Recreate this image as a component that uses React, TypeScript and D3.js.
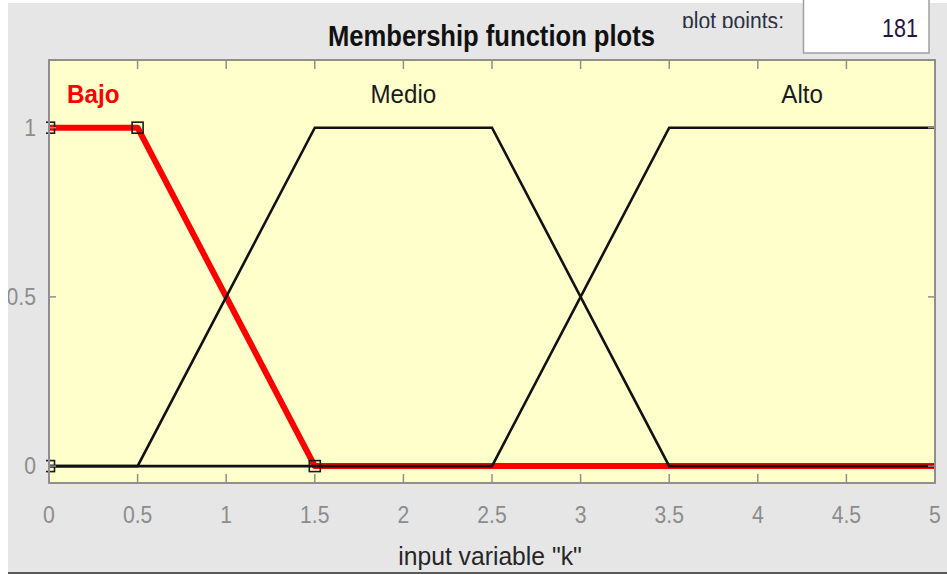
import React from "react";
import * as d3 from "d3";

// Input variable "k" and its membership functions
const xDomain: [number, number] = [0, 5];
const yDomain: [number, number] = [-0.05, 1.2];
const xTicks = [0, 0.5, 1, 1.5, 2, 2.5, 3, 3.5, 4, 4.5, 5];
const xTickLabels = ["0", "0.5", "1", "1.5", "2", "2.5", "3", "3.5", "4", "4.5", "5"];
const yTicks = [0, 0.5, 1];
const yTickLabels = ["0", "0.5", "1"];

const mfNames = ["Bajo", "Medio", "Alto"];
const bajoX = [0, 0.5, 1.5, 5];
const bajoY = [1, 1, 0, 0];
const medioX = [0, 0.5, 1.5, 2.5, 3.5, 5];
const medioY = [0, 0, 1, 1, 0, 0];
const altoX = [0, 2.5, 3.5, 5];
const altoY = [0, 0, 1, 1];
// trapmf parameters of the selected function (Bajo)
const bajoParamX = [0, 0, 0.5, 1.5];
const bajoParamY = [0, 1, 1, 0];
const labelLevel = 1.1;
const plotPoints = "181";

const W = 947;
const H = 574;
const L = 49, R = 935, T = 60, B = 483;
const FONT = "'Liberation Sans', Arial, Helvetica, sans-serif";

export default function App() {
  const x = d3.scaleLinear().domain(xDomain).range([L, R]);
  const y = d3.scaleLinear().domain(yDomain).range([B, T]);
  const line = d3.line<[number, number]>().x((d) => x(d[0])).y((d) => y(d[1]));

  const mfs = [
    { name: mfNames[0], xs: bajoX, ys: bajoY },
    { name: mfNames[1], xs: medioX, ys: medioY },
    { name: mfNames[2], xs: altoX, ys: altoY },
  ].map((m) => {
    const pts = m.xs.map((v, i) => [v, m.ys[i]] as [number, number]);
    const top = pts.filter((p) => p[1] === 1).map((p) => p[0]);
    return { ...m, pts, cx: d3.mean(top) as number };
  });

  const selected = mfs[0];
  const others = mfs.slice(1);
  const sq = 11;

  return (
    <svg
      width={W}
      height={H}
      style={{ position: "absolute", left: 0, top: 0, display: "block" }}
      fontFamily={FONT}
    >
      <defs>
        <clipPath id="plotClip">
          <rect x={L - 3} y={T} width={R - L + 3} height={B - T} />
        </clipPath>
        <clipPath id="ppClip">
          <rect x={660} y={0} width={140} height={28} />
        </clipPath>
      </defs>
      {/* window background */}
      <rect x={0} y={0} width={W} height={H} fill="#ffffff" />
      <rect x={8} y={3} width={W - 8} height={H - 5} fill="#e6e6e6" />
      <rect x={8} y={572} width={W - 8} height={2} fill="#5a5a5a" />

      {/* header */}
      <text
        x={0}
        y={0}
        transform={`translate(491.5,46)`}
        textAnchor="middle"
        fontWeight="bold"
        fontSize={29}
        textLength={327}
        lengthAdjust="spacingAndGlyphs"
        fill="#111"
      >
        Membership function plots
      </text>
      <g clipPath="url(#ppClip)">
        <text
          x={682}
          y={28.5}
          fontSize={23}
          textLength={102}
          lengthAdjust="spacingAndGlyphs"
          fill="#2c3040"
        >
          plot points:
        </text>
      </g>
      <rect x={803.5} y={-1} width={125.5} height={54} fill="#ffffff" stroke="#a0a0a0" strokeWidth={1.5} />
      <text
        x={918}
        y={37}
        textAnchor="end"
        fontSize={26}
        textLength={36}
        lengthAdjust="spacingAndGlyphs"
        fill="#2a1240"
      >
        {plotPoints}
      </text>

      {/* plot area */}
      <rect x={L} y={T} width={R - L} height={B - T} fill="#ffffcc" />

      <g clipPath="url(#plotClip)">
        <path d={line(selected.pts) || ""} fill="none" stroke="#ff0000" strokeWidth={6} strokeLinejoin="round" />
        {others.map((m) => (
          <path key={m.name} d={line(m.pts) || ""} fill="none" stroke="#111" strokeWidth={2.6} />
        ))}
        {bajoParamX.map((px, i) => (
          <rect
            key={i}
            x={x(px) - sq / 2}
            y={y(bajoParamY[i]) - sq / 2}
            width={sq}
            height={sq}
            fill="none"
            stroke="#1a1a1a"
            strokeWidth={1.6}
          />
        ))}
      </g>

      {/* axes box and ticks */}
      <rect x={L} y={T} width={R - L} height={B - T} fill="none" stroke="#8f8f8f" strokeWidth={2} />
      {xTicks.slice(1, -1).map((t) => (
        <g key={"xt" + t} stroke="#8f8f8f" strokeWidth={1.5}>
          <line x1={x(t)} x2={x(t)} y1={B} y2={B - 9} />
          <line x1={x(t)} x2={x(t)} y1={T} y2={T + 9} />
        </g>
      ))}
      {yTicks.map((t) => (
        <g key={"yt" + t} stroke="#8f8f8f" strokeWidth={1.5}>
          <line x1={L} x2={L + 7} y1={y(t)} y2={y(t)} />
          <line x1={R} x2={R - 7} y1={y(t)} y2={y(t)} />
        </g>
      ))}

      {/* tick labels */}
      {xTicks.map((t, i) => (
        <text
          key={"xl" + t}
          transform={`translate(${x(t)},523) scale(0.92,1)`}
          textAnchor="middle"
          fontSize={23}
          fill="#8c8c8c"
        >
          {xTickLabels[i]}
        </text>
      ))}
      {yTicks.map((t, i) => (
        <text
          key={"yl" + t}
          transform={`translate(36,${y(t) + 8.3}) scale(0.92,1)`}
          textAnchor="end"
          fontSize={23}
          fill="#8c8c8c"
        >
          {yTickLabels[i]}
        </text>
      ))}
      {/* white margin strip drawn over the clipped y label */}
      <rect x={0} y={0} width={8} height={H} fill="#ffffff" />

      {/* membership function names */}
      {mfs.map((m, i) => (
        <text
          key={"n" + m.name}
          transform={`translate(${x(m.cx)},${y(labelLevel) + 9.5}) scale(0.93,1)`}
          textAnchor="middle"
          fontSize={26}
          fontWeight={i === 0 ? "bold" : "normal"}
          fill={i === 0 ? "#ff0000" : "#1a1a1a"}
        >
          {m.name}
        </text>
      ))}

      {/* axis label */}
      <text
        transform={`translate(490,565) scale(0.95,1)`}
        textAnchor="middle"
        fontSize={26}
        fill="#262626"
      >
        input variable "k"
      </text>
    </svg>
  );
}
